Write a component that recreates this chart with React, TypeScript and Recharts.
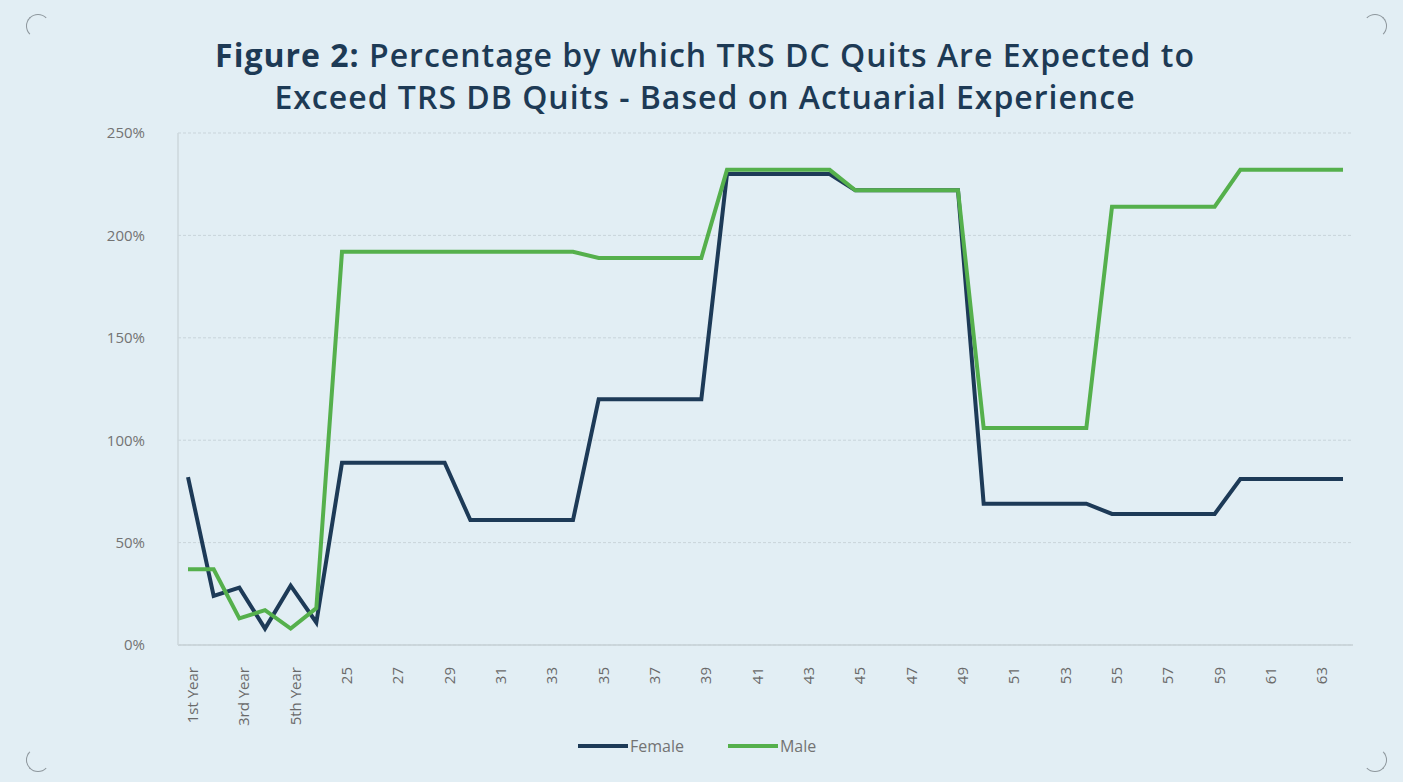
import React from 'react';
import { LineChart, Line, XAxis, YAxis, CartesianGrid } from 'recharts';

// categories: first five service years, then ages 24..64
const serviceYears = ['1st Year', '2nd Year', '3rd Year', '4th Year', '5th Year'];
const ages = [
  '24', '25', '26', '27', '28', '29', '30', '31', '32', '33', '34', '35', '36', '37',
  '38', '39', '40', '41', '42', '43', '44', '45', '46', '47', '48', '49', '50', '51',
  '52', '53', '54', '55', '56', '57', '58', '59', '60', '61', '62', '63', '64'
];
const categories = [...serviceYears, ...ages];

const female = [
  82, 24, 28, 8, 29, 11,
  89, 89, 89, 89, 89,
  61, 61, 61, 61, 61,
  120, 120, 120, 120, 120,
  230, 230, 230, 230, 230,
  222, 222, 222, 222, 222,
  69, 69, 69, 69, 69,
  64, 64, 64, 64, 64,
  81, 81, 81, 81, 81
];

const male = [
  37, 37, 13, 17, 8, 18,
  192, 192, 192, 192, 192,
  192, 192, 192, 192, 192,
  189, 189, 189, 189, 189,
  232, 232, 232, 232, 232,
  222, 222, 222, 222, 222,
  106, 106, 106, 106, 106,
  214, 214, 214, 214, 214,
  232, 232, 232, 232, 232
];

const yTicks = [0, 50, 100, 150, 200, 250];

const data = categories.map((name, i) => ({ name, Female: female[i], Male: male[i] }));

const FEMALE = '#1d3a57';
const MALE = '#55b04c';
const FONT = '"Open Sans", "Noto Sans", sans-serif';

const XTick = (props: any) => {
  const { x, y, payload } = props;
  return (
    <text
      x={x + 4}
      y={y + 14}
      transform={`rotate(-90 ${x + 4} ${y + 14})`}
      textAnchor="end"
      dominantBaseline="central"
      fontSize={15}
      fill="#6a6a6a"
      fontFamily={FONT}
    >
      {payload.value}
    </text>
  );
};

const Corner = ({ style }: { style: React.CSSProperties }) => (
  <div style={{ position: 'absolute', width: 22, height: 22, borderRadius: 22, ...style }} />
);

const edge = '1.5px solid #8d969c';
const none = '1.5px solid transparent';

const App: React.FC = () => {
  return (
    <div
      style={{
        position: 'fixed',
        left: 0,
        top: 0,
        width: 1403,
        height: 782,
        background: '#e2eef4',
        overflow: 'hidden',
        fontFamily: FONT
      }}
    >
      <Corner style={{ left: 26, top: 14, borderTop: edge, borderLeft: edge, borderRight: none, borderBottom: none }} />
      <Corner style={{ right: 16, top: 14, borderTop: edge, borderRight: edge, borderLeft: none, borderBottom: none }} />
      <Corner style={{ left: 26, bottom: 10, borderBottom: edge, borderLeft: edge, borderRight: none, borderTop: none }} />
      <Corner style={{ right: 16, bottom: 10, borderBottom: edge, borderRight: edge, borderLeft: none, borderTop: none }} />

      {/* Title */}
      <div
        style={{
          position: 'absolute',
          left: 0,
          width: 1410,
          top: 34,
          textAlign: 'center',
          color: '#1d3a55',
          fontSize: 32,
          fontWeight: 700,
          lineHeight: '42px',
          fontFamily: '"Open Sans", sans-serif',
          letterSpacing: 1
        }}
      >
        <div>
          Figure 2: <span style={{ fontWeight: 600 }}>Percentage by which TRS DC Quits Are Expected to</span>
        </div>
        <div style={{ fontWeight: 600 }}>Exceed TRS DB Quits - Based on Actuarial Experience</div>
      </div>

      <div style={{ position: 'absolute', left: 0, top: 0 }}>
        <LineChart
          width={1403}
          height={782}
          data={data}
          margin={{ top: 133, right: 50, bottom: 57, left: 118 }}
        >
          <CartesianGrid vertical={false} stroke="#c9d4da" strokeDasharray="3 2" />
          <XAxis
            dataKey="name"
            interval={1}
            height={80}
            padding={{ left: 10, right: 10 }}
            tickLine={false}
            axisLine={{ stroke: '#c6d0d6', strokeWidth: 1.5 }}
            tick={<XTick />}
          />
          <YAxis
            width={60}
            domain={[0, 250]}
            ticks={yTicks}
            tickFormatter={(v: number) => `${v}%`}
            axisLine={{ stroke: '#cdd7dc', strokeWidth: 1.5 }}
            tickLine={false}
            tickMargin={27}
            tick={{ fontSize: 15, fill: '#737373', fontFamily: FONT }}
          />
          <Line
            type="linear"
            dataKey="Female"
            stroke={FEMALE}
            strokeWidth={4}
            dot={false}
            isAnimationActive={false}
          />
          <Line
            type="linear"
            dataKey="Male"
            stroke={MALE}
            strokeWidth={4}
            dot={false}
            isAnimationActive={false}
          />
        </LineChart>
      </div>

      {/* Legend */}
      <div
        style={{
          position: 'absolute',
          top: 735,
          left: 578,
          display: 'flex',
          alignItems: 'center',
          fontSize: 16,
          color: '#737373',
          fontFamily: FONT
        }}
      >
        <span style={{ display: 'inline-block', width: 50, height: 4, background: FEMALE }} />
        <span style={{ marginLeft: 2 }}>Female</span>
        <span style={{ display: 'inline-block', width: 50, height: 4, background: MALE, marginLeft: 44 }} />
        <span style={{ marginLeft: 2 }}>Male</span>
      </div>
    </div>
  );
};

export default App;
